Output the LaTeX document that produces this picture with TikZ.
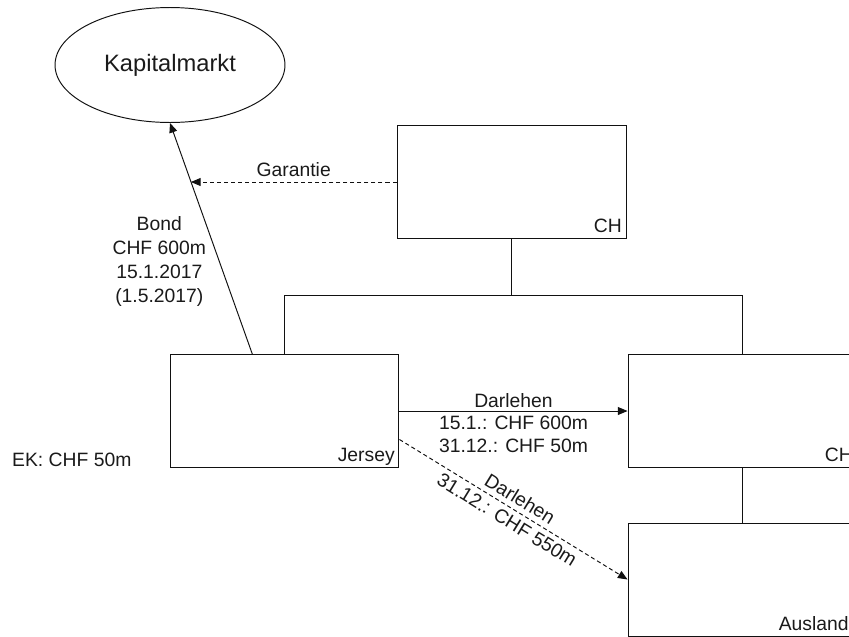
\documentclass[tikz,border=0pt]{standalone}
\usepackage{fontspec}
\setmainfont{Liberation Sans}
\usetikzlibrary{arrows.meta, positioning, calc, shapes.geometric}
\definecolor{groupline}{HTML}{111111}
\definecolor{grouptext}{HTML}{1A1A1A}

\begin{document}
\begin{tikzpicture}[
        x=0.02cm, y=-0.02cm,
        every node/.append style={text=grouptext, font=\fontsize{11}{13.6}\selectfont},
        entity/.style={
            draw=groupline,
            line width=0.55pt,
            minimum width=4.58cm,
            minimum height=2.26cm,
            inner sep=0pt
        },
        market/.style={
            draw=groupline,
            line width=0.55pt,
            ellipse,
            minimum width=4.6cm,
            minimum height=2.3cm,
            font=\fontsize{13.5}{16}\selectfont
        },
        cornertext/.style={
            label={[anchor=base east, xshift=-2.5pt, yshift=3.5pt, inner sep=0pt]south east:#1}
        },
        edgetext/.style={
            label={[anchor=base east, xshift=-4.8pt, yshift=3.5pt, inner sep=0pt]south east:#1}
        },
        holding/.style={draw=groupline, line width=0.55pt},
        flow/.style={-{Triangle[length=5.5pt, width=4.5pt]}, line width=0.55pt, groupline},
        promise/.style={flow, dash pattern=on 2.3pt off 1.7pt}
    ]
        \useasboundingbox (0,0) rectangle (849,636);
        \clip (0,0) rectangle (849,636);

        \node[market] (kapitalmarkt) at (170,65) {Kapitalmarkt};
        \node[entity, cornertext=CH] (parent) at (511.5,182) {};
        \node[entity, cornertext=Jersey] (jersey) at (284.5,411) {};
        \node[entity, cornertext=CH] (swiss) at (742.5,411) {};
        \node[entity, edgetext=Ausland] (abroad) at (742.5,579.5) {};
        \node[anchor=west] (equity) at (6,460) {EK: CHF 50m};

        % ownership
        \coordinate (split) at ($(parent.south)+(0,57)$);
        \draw[holding] (parent.south) -- (split);
        \draw[holding] (jersey.north) |- (split) -| (swiss.north);
        \draw[holding] (swiss.south) -- (abroad.north);

        % financing
        \draw[flow]
            ($(jersey.north west)!0.36!(jersey.north east)$)
            -- node[pos=0.4, left=4pt, align=center] {Bond\\CHF 600m\\15.1.2017\\(1.5.2017)}
               coordinate[pos=0.746] (guarantee)
            (kapitalmarkt.south);
        \draw[promise]
            (parent.west)
            -- node[above=-0.5pt] {Garantie}
            (parent.west -| guarantee);
        \draw[flow]
            (jersey.east)
            -- node[above=-1.5pt] {Darlehen}
               node[below=-1pt, align=center] {15.1.: CHF 600m\\31.12.: CHF 50m}
            (swiss.west);
        \draw[promise]
            ($(jersey.south east)!0.25!(jersey.north east)$)
            -- node[sloped, above=-0.5pt] {Darlehen}
               node[sloped, below=-0.5pt] {31.12.: CHF 550m}
            (abroad.west);
    \end{tikzpicture}
\end{document}
